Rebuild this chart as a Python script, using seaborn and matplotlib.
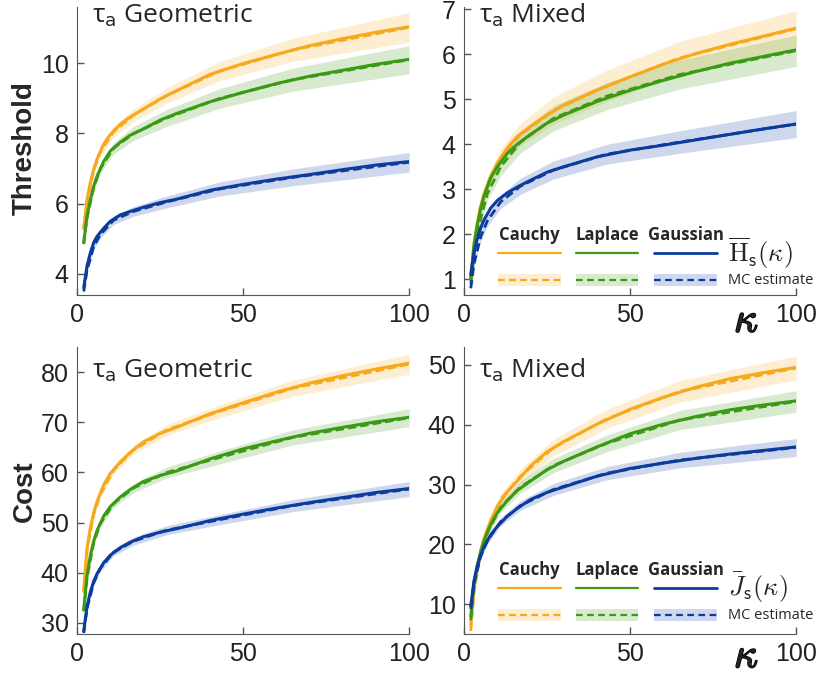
import numpy as np
import matplotlib
matplotlib.use("Agg")
import matplotlib.pyplot as plt
import matplotlib.patheffects as pe
import seaborn as sns
from matplotlib.patches import Rectangle

# %% data
k = [2, 3, 4, 5, 6, 8, 10, 13, 16, 20, 25, 30, 40, 50, 60, 70, 80, 90, 100]
mc_k = [2, 3, 5, 7, 11, 17, 27, 43, 65, 100]

# threshold, geometric tau_a
thr_geo_cauchy = [5.3, 6.12, 6.6, 6.98, 7.27, 7.7, 7.97, 8.26, 8.47, 8.7, 8.98, 9.22, 9.68, 9.99, 10.25, 10.5, 10.7, 10.88, 11.04]
thr_geo_laplace = [4.9, 5.65, 6.12, 6.5, 6.78, 7.2, 7.5, 7.75, 7.95, 8.13, 8.38, 8.57, 8.9, 9.17, 9.42, 9.63, 9.8, 9.97, 10.11]
thr_geo_gauss = [3.61, 4.23, 4.6, 4.89, 5.07, 5.3, 5.5, 5.68, 5.78, 5.9, 6.03, 6.13, 6.38, 6.55, 6.7, 6.83, 6.97, 7.1, 7.2]
mc_thr_geo_cauchy = [5.25, 6.08, 6.95, 7.48, 8.05, 8.52, 9.08, 9.78, 10.38, 11.02]
mc_thr_geo_laplace = [4.85, 5.6, 6.45, 7.0, 7.58, 8.0, 8.44, 9.0, 9.53, 10.1]
mc_thr_geo_gauss = [3.5, 4.1, 4.78, 5.12, 5.53, 5.78, 6.05, 6.42, 6.75, 7.18]
sd_thr_geo_cauchy = [0.05, 0.07, 0.1, 0.12, 0.15, 0.18, 0.22, 0.27, 0.33, 0.42]
sd_thr_geo_laplace = [0.06, 0.08, 0.1, 0.13, 0.16, 0.2, 0.24, 0.28, 0.33, 0.4]
sd_thr_geo_gauss = [0.06, 0.07, 0.09, 0.1, 0.12, 0.14, 0.17, 0.2, 0.24, 0.28]

# threshold, mixed tau_a
thr_mix_cauchy = [1.0, 1.8, 2.26, 2.63, 2.9, 3.3, 3.58, 3.92, 4.17, 4.4, 4.65, 4.87, 5.2, 5.5, 5.78, 6.02, 6.22, 6.4, 6.58]
thr_mix_laplace = [1.0, 1.78, 2.22, 2.58, 2.85, 3.25, 3.5, 3.8, 4.0, 4.22, 4.47, 4.65, 4.95, 5.2, 5.42, 5.62, 5.8, 5.95, 6.1]
thr_mix_gauss = [1.1, 1.61, 1.91, 2.14, 2.32, 2.58, 2.75, 2.92, 3.05, 3.2, 3.38, 3.5, 3.72, 3.87, 3.98, 4.1, 4.22, 4.34, 4.45]
mc_thr_mix_cauchy = [0.95, 1.7, 2.55, 3.1, 3.7, 4.22, 4.75, 5.3, 5.92, 6.57]
mc_thr_mix_laplace = [0.9, 1.55, 2.35, 2.9, 3.5, 4.05, 4.58, 5.07, 5.55, 6.08]
mc_thr_mix_gauss = [0.8, 1.35, 1.95, 2.3, 2.72, 3.07, 3.43, 3.78, 4.05, 4.45]
sd_thr_mix_cauchy = [0.05, 0.08, 0.12, 0.15, 0.2, 0.25, 0.3, 0.35, 0.37, 0.4]
sd_thr_mix_laplace = [0.05, 0.08, 0.12, 0.15, 0.2, 0.24, 0.28, 0.3, 0.32, 0.35]
sd_thr_mix_gauss = [0.05, 0.07, 0.1, 0.12, 0.15, 0.18, 0.2, 0.22, 0.25, 0.3]

# cost, geometric tau_a
cost_geo_cauchy = [36.5, 45, 49, 52, 54.2, 57.5, 59.8, 62.1, 64, 66.1, 67.8, 69, 71.7, 73.9, 76, 77.8, 79.3, 80.6, 81.8]
cost_geo_laplace = [32.7, 39.5, 43.5, 46.3, 48.4, 51.3, 53.2, 55.1, 56.6, 58.2, 59.4, 60.3, 62.7, 64.7, 66.3, 67.8, 69, 70.1, 71]
cost_geo_gauss = [28.4, 33.3, 36.2, 38.3, 39.8, 42, 43.5, 45, 46.1, 47.2, 48.1, 48.8, 50.4, 51.7, 52.9, 54, 55, 56, 56.8]
mc_cost_geo_cauchy = [36, 44.5, 51.6, 55.6, 60.5, 64.5, 68.5, 72.2, 76.8, 81.6]
mc_cost_geo_laplace = [32.3, 39, 46, 49.8, 53.8, 56.9, 60, 63, 67, 70.9]
mc_cost_geo_gauss = [28, 32.9, 38, 40.9, 44.1, 46.3, 48.5, 50.6, 53.4, 56.7]
sd_cost_geo_cauchy = [0.4, 0.5, 0.6, 0.7, 0.8, 0.9, 1.1, 1.3, 1.6, 2.0]
sd_cost_geo_laplace = [0.4, 0.5, 0.6, 0.7, 0.8, 0.9, 1.1, 1.3, 1.5, 1.8]
sd_cost_geo_gauss = [0.4, 0.5, 0.6, 0.6, 0.7, 0.8, 0.9, 1.0, 1.2, 1.5]

# cost, mixed tau_a
cost_mix_cauchy = [6.5, 12.8, 16.3, 19, 21, 24, 26.4, 28.8, 30.6, 33.1, 35.5, 37.2, 40.1, 42.6, 44.6, 46.3, 47.7, 48.7, 49.6]
cost_mix_laplace = [8, 13.5, 16.5, 18.8, 20.6, 23.3, 25.3, 27.3, 29, 30.6, 32.5, 33.9, 36.3, 38.5, 40.1, 41.4, 42.5, 43.3, 44]
cost_mix_gauss = [9.7, 14, 16.5, 18.2, 19.6, 21.6, 23, 24.7, 26, 27.5, 28.7, 29.6, 31.4, 32.7, 33.6, 34.4, 35.1, 35.7, 36.3]
mc_cost_mix_cauchy = [5.5, 12, 18.8, 22.5, 27.5, 31.4, 36.2, 41, 45.6, 49.5]
mc_cost_mix_laplace = [7.3, 13, 18.5, 22, 26.2, 29.6, 33.2, 36.9, 40.8, 43.9]
mc_cost_mix_gauss = [9.2, 13.7, 18, 20.6, 23.8, 26.5, 29.2, 31.9, 34.1, 36.2]
sd_cost_mix_cauchy = [0.3, 0.5, 0.7, 0.8, 1.0, 1.2, 1.4, 1.6, 1.8, 2.0]
sd_cost_mix_laplace = [0.3, 0.5, 0.6, 0.7, 0.9, 1.0, 1.2, 1.4, 1.6, 1.8]
sd_cost_mix_gauss = [0.3, 0.4, 0.5, 0.6, 0.7, 0.8, 1.0, 1.1, 1.3, 1.5]

dists = ["Cauchy", "Laplace", "Gaussian"]
colors = ["#F7A81B", "#3A9A14", "#0B3B9E"]

# %% style
sns.set_style("ticks")
plt.rcParams["font.family"] = ["Liberation Sans", "DejaVu Sans"]
plt.rcParams["mathtext.fontset"] = "cm"


def draw_panel(ax, curves, mcs, sds, ylim, yticks, title, title_y):
    for y, mc, sd, c in zip(curves, mcs, sds, colors):
        mc = np.array(mc)
        sd = np.array(sd)
        ax.fill_between(mc_k, mc - sd, mc + sd, color=c, alpha=0.2, lw=0)
        sns.lineplot(x=k, y=y, color=c, lw=2.2, ax=ax)
        sns.lineplot(x=mc_k, y=mc, color=c, lw=2, ls=(0, (3, 1.5)), ax=ax)
    ax.set_xlim(0, 100)
    ax.set_ylim(*ylim)
    ax.set_xticks([0, 50, 100])
    ax.set_yticks(yticks)
    ax.tick_params(direction="in", length=5, width=1, color="#555555",
                   labelsize=18, labelcolor="#222222", pad=6)
    for s in ["left", "bottom"]:
        ax.spines[s].set_color("#555555")
    sns.despine(ax=ax)
    ax.set_xlabel("")
    ax.set_ylabel("")
    ax.text(0.045, title_y, "τ$_{\\mathrm{a}}$ " + title, transform=ax.transAxes,
            fontsize=19, family="Open Sans", va="baseline", ha="left",
            math_fontfamily="dejavusans")


def draw_key(ax, label, y0):
    # hand made key: column headers, solid row, dashed row with band
    xs = [(0.102, 0.292), (0.337, 0.524), (0.572, 0.762)]
    for (a, b), c, name in zip(xs, colors, dists):
        ax.text((a + b) / 2, y0 + 0.062, name, transform=ax.transAxes,
                ha="center", va="center", fontsize=12, fontweight="bold",
                family="Open Sans")
        ax.plot([a, b], [y0, y0], color=c, lw=1.6 if c != colors[2] else 2,
                transform=ax.transAxes, clip_on=False)
        ax.add_patch(Rectangle((a, y0 - 0.115), b - a, 0.042, color=c,
                               alpha=0.2, lw=0, transform=ax.transAxes))
        ax.plot([a, b], [y0 - 0.094, y0 - 0.094], color=c, lw=1.6,
                ls=(0, (3, 2)), transform=ax.transAxes, clip_on=False)
    ax.text(0.795, y0, label, transform=ax.transAxes, ha="left", va="center",
            fontsize=19)
    ax.text(0.795, y0 - 0.094, "MC estimate", transform=ax.transAxes,
            ha="left", va="center", fontsize=10.5, family="Open Sans",
            clip_on=False)


fig = plt.figure(figsize=(8.2, 6.76), dpi=100)
ax1 = fig.add_axes([0.094, 0.5636, 0.405, 0.426])
ax2 = fig.add_axes([0.566, 0.5636, 0.405, 0.426])
ax3 = fig.add_axes([0.094, 0.0621, 0.405, 0.4245])
ax4 = fig.add_axes([0.566, 0.0621, 0.405, 0.4245])

draw_panel(ax1, [thr_geo_cauchy, thr_geo_laplace, thr_geo_gauss],
           [mc_thr_geo_cauchy, mc_thr_geo_laplace, mc_thr_geo_gauss],
           [sd_thr_geo_cauchy, sd_thr_geo_laplace, sd_thr_geo_gauss],
           (3.4, 11.6), [4, 6, 8, 10], "Geometric", 0.948)
draw_panel(ax2, [thr_mix_cauchy, thr_mix_laplace, thr_mix_gauss],
           [mc_thr_mix_cauchy, mc_thr_mix_laplace, mc_thr_mix_gauss],
           [sd_thr_mix_cauchy, sd_thr_mix_laplace, sd_thr_mix_gauss],
           (0.65, 7.05), [1, 2, 3, 4, 5, 6, 7], "Mixed", 0.945)
draw_panel(ax3, [cost_geo_cauchy, cost_geo_laplace, cost_geo_gauss],
           [mc_cost_geo_cauchy, mc_cost_geo_laplace, mc_cost_geo_gauss],
           [sd_cost_geo_cauchy, sd_cost_geo_laplace, sd_cost_geo_gauss],
           (27.8, 85), [30, 40, 50, 60, 70, 80], "Geometric", 0.895)
draw_panel(ax4, [cost_mix_cauchy, cost_mix_laplace, cost_mix_gauss],
           [mc_cost_mix_cauchy, mc_cost_mix_laplace, mc_cost_mix_gauss],
           [sd_cost_mix_cauchy, sd_cost_mix_laplace, sd_cost_mix_gauss],
           (5, 53), [10, 20, 30, 40, 50], "Mixed", 0.895)

ax1.set_ylabel("Threshold", fontsize=20, fontweight="bold")
ax1.yaxis.set_label_coords(-0.118, 0.51)
ax3.set_ylabel("Cost", fontsize=20, fontweight="bold")
ax3.yaxis.set_label_coords(-0.118, 0.497)

for ax, ky in ((ax2, -0.09), (ax4, -0.078)):
    ax.text(0.85, ky, r"$\kappa$", transform=ax.transAxes, fontsize=30,
            ha="center", va="center",
            path_effects=[pe.withStroke(linewidth=1.2, foreground="black")])

draw_key(ax2, r"$\overline{\mathrm{H}}_{\mathsf{s}}(\kappa)$", 0.146)
draw_key(ax4, r"$\bar{J}_{\mathsf{s}}(\kappa)$", 0.16)

fig.savefig("out.png", dpi=100)
